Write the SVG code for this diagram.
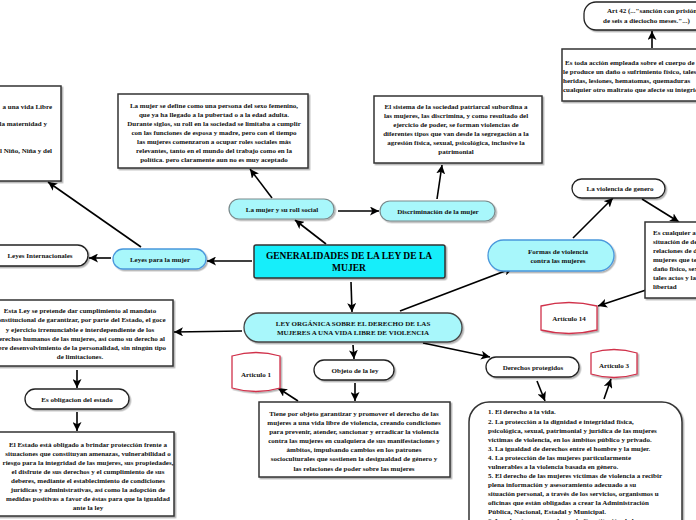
<svg xmlns="http://www.w3.org/2000/svg" width="696" height="520" viewBox="0 0 696 520">
<defs>
<style>
text{font-family:"Liberation Serif","Times New Roman",serif;font-weight:bold;font-size:7px;fill:#111}
.c{text-anchor:middle}
.r{text-anchor:end}
.t{font-size:9.5px;fill:#000}
.box{fill:#fff;stroke:#333;stroke-width:1.5;filter:url(#sh)}
.pw{fill:#fff;stroke:#222;stroke-width:1.3;filter:url(#sh)}
.pc{fill:#a8f7fb;stroke:#7a8a8c;stroke-width:1.2;filter:url(#sh)}
.pk{fill:#a8f7fb;stroke:#444;stroke-width:1.3;filter:url(#sh)}
.pb{fill:#a8f7fb;stroke:#4a98dc;stroke-width:1.3;filter:url(#sh)}
.ti{fill:#17eefa;stroke:#333;stroke-width:1.5;filter:url(#sh)}
.art{fill:#fff;stroke:#d0304a;stroke-width:1.3;filter:url(#sh)}
.e{fill:none;stroke:#000;stroke-width:1.6;marker-end:url(#ah)}
</style>
<marker id="ah" viewBox="0 0 10 10" refX="10" refY="5" markerWidth="9" markerHeight="9" markerUnits="userSpaceOnUse" orient="auto"><path d="M0,0L10,5L0,10L2.5,5z" fill="#000"/></marker>
<filter id="sh" x="-10%" y="-10%" width="130%" height="140%"><feDropShadow dx="1.5" dy="1.5" stdDeviation="0.7" flood-color="#000" flood-opacity="0.3"/></filter>
</defs>
<rect width="696" height="520" fill="#fff"/>

<g id="connectors">
<line class="e" x1="326" y1="244" x2="295" y2="220"/>
<line class="e" x1="272" y1="198" x2="250" y2="169"/>
<line class="e" x1="338" y1="211" x2="379" y2="211"/>
<line class="e" x1="437" y1="199" x2="442" y2="165"/>
<line class="e" x1="252" y1="261" x2="207" y2="261"/>
<line class="e" x1="111" y1="258" x2="89" y2="258"/>
<line class="e" x1="141" y1="247" x2="48" y2="182"/>
<line class="e" x1="351" y1="282" x2="352" y2="312"/>
<line class="e" x1="242" y1="331" x2="174" y2="332"/>
<line class="e" x1="77" y1="370" x2="77" y2="388"/>
<line class="e" x1="77" y1="412" x2="77" y2="431"/>
<line class="e" x1="353" y1="345" x2="354" y2="359"/>
<line class="e" x1="355" y1="383" x2="355" y2="401"/>
<line class="e" x1="298" y1="401" x2="278" y2="388"/>
<line class="e" x1="423" y1="343" x2="490" y2="357"/>
<line class="e" x1="537" y1="381" x2="545" y2="401"/>
<line class="e" x1="604" y1="399" x2="611" y2="379"/>
<line class="e" x1="400" y1="311" x2="513" y2="268"/>
<line class="e" x1="573" y1="238" x2="613" y2="198"/>
<line class="e" x1="642" y1="199" x2="679" y2="222"/>
<line class="e" x1="646" y1="290" x2="598" y2="306"/>
<line class="e" x1="652" y1="48" x2="652" y2="31"/>
</g>

<g id="n-title">
<rect class="ti" x="254" y="245" width="191" height="33" rx="2"/>
<text class="c t" x="349" y="259">GENERALIDADES DE LA LEY DE LA</text>
<text class="c t" x="349" y="270.5">MUJER</text>
</g>

<g id="n-mujer-roll">
<rect class="pc" x="229" y="199" width="105" height="20" rx="10"/>
<text class="c" x="282" y="211.5">La mujer y su roll social</text>
</g>

<g id="n-mujer-def">
<rect class="box" x="118" y="94" width="190" height="74"/>
<text class="c" x="214" y="107.5">La mujer se define como una persona del sexo femenino,</text>
<text class="c" x="214" y="116.5">que ya ha llegado a la pubertad o a la edad adulta.</text>
<text class="c" x="214" y="125.5">Durante siglos, su roll en la sociedad se limitaba a cumplir</text>
<text class="c" x="214" y="134.5">con las funciones de esposa y madre, pero con el tiempo</text>
<text class="c" x="214" y="143.5">las mujeres comenzaron a ocupar roles sociales más</text>
<text class="c" x="214" y="152.5">relevantes, tanto en el mundo del trabajo como en la</text>
<text class="c" x="214" y="161.5">política. pero claramente aun no es muy aceptado</text>
</g>

<g id="n-discriminacion">
<rect class="pc" x="380" y="201" width="115" height="20" rx="10"/>
<text class="c" x="438" y="213.5">Discriminación de la mujer</text>
</g>

<g id="n-sistema">
<rect class="box" x="374" y="96" width="168" height="67"/>
<text class="c" x="456" y="108.5">El sistema de la sociedad patriarcal subordina a</text>
<text class="c" x="456" y="117.5">las mujeres, las discrimina, y como resultado del</text>
<text class="c" x="456" y="126.5">ejercicio de poder, se forman violencias de</text>
<text class="c" x="456" y="135.5">diferentes tipos que van desde la segregación a la</text>
<text class="c" x="456" y="144.5">agresión física, sexual, psicológica, inclusive la</text>
<text class="c" x="456" y="153.5">patrimonial</text>
</g>

<g id="n-art42">
<rect class="pw" x="584" y="2" width="140" height="28" rx="12"/>
<text x="607" y="12.5">Art 42 (...&quot;sanción con prisión</text>
<text x="603" y="22.5">de seis a dieciocho meses.&quot;...)</text>
</g>

<g id="n-fisica">
<rect class="box" x="562" y="49" width="150" height="52"/>
<text x="565" y="64.5">Es toda acción empleada sobre el cuerpo de</text>
<text x="563" y="73.5">le produce un daño o sufrimiento físico, tales</text>
<text x="563" y="82.5">heridas, lesiones, hematomas, quemaduras</text>
<text x="563" y="91.5">cualquier otro maltrato que afecte su integridad</text>
</g>

<g id="n-violencia-genero">
<rect class="pw" x="572" y="179" width="93" height="19" rx="9.5"/>
<text class="c" x="620" y="191">La violencia de genero</text>
</g>

<g id="n-formas">
<rect class="pb" x="488" y="240" width="126" height="31" rx="15.5"/>
<text class="c" x="558" y="253.5">Formas de violencia</text>
<text class="c" x="558" y="262.5">contra las mujeres</text>
</g>

<g id="n-cualquier">
<rect class="box" x="645" y="222" width="70" height="76"/>
<text x="653" y="234.5">Es cualquier a</text>
<text x="653" y="243.5">situación de de</text>
<text x="653" y="252.5">relaciones de d</text>
<text x="653" y="261.5">mujeres que te</text>
<text x="653" y="270.5">daño físico, sex</text>
<text x="653" y="279.5">tales actos y la</text>
<text x="653" y="289">libertad</text>
</g>

<g id="n-art14">
<path class="art" d="M541,306 Q569,299 597,306 V330 Q569,337 541,330 Z"/>
<text class="c" x="569" y="321">Artículo 14</text>
</g>

<g id="n-leyes-mujer">
<rect class="pb" x="113" y="249" width="93" height="20" rx="10"/>
<text class="c" x="160" y="261.5">Leyes para la mujer</text>
</g>

<g id="n-leyes-int">
<rect class="pw" x="-12" y="245" width="100" height="21" rx="10.5"/>
<text class="c" x="40" y="257.5">Leyes Internacionales</text>
</g>

<g id="n-topleft">
<rect class="box" x="-6" y="86" width="67" height="95"/>
<text class="r" x="52" y="108.5">a una vida Libre</text>
<text class="r" x="47" y="125.5">la maternidad y</text>
<text class="r" x="52" y="152.5">l Niño, Niña y del</text>
</g>

<g id="n-ley-organica">
<rect class="pk" x="244" y="313" width="218" height="29" rx="14.5"/>
<text class="c" x="353" y="325.5">LEY ORGÁNICA SOBRE EL DERECHO DE LAS</text>
<text class="c" x="353" y="334.5">MUJERES A UNA VIDA LIBRE DE VIOLENCIA</text>
</g>

<g id="n-esta-ley">
<rect class="box" x="-6" y="300" width="179" height="66"/>
<text class="c" x="80" y="313">Esta Ley se pretende dar cumplimiento al mandato</text>
<text class="c" x="80" y="322">constitucional de garantizar, por parte del Estado, el goce</text>
<text class="c" x="80" y="331.5">y ejercicio irrenunciable e interdependiente de los</text>
<text class="c" x="80" y="340.5">derechos humanos de las mujeres, así como su derecho al</text>
<text class="c" x="80" y="349.5">libre desenvolvimiento de la personalidad, sin ningún tipo</text>
<text class="c" x="80" y="359">de limitaciones.</text>
</g>

<g id="n-obligacion">
<rect class="pw" x="25" y="389" width="104" height="20" rx="10"/>
<text class="c" x="77" y="401.5">Es obligacion del estado</text>
</g>

<g id="n-estado">
<rect class="box" x="-6" y="432" width="180" height="84"/>
<text class="c" x="88" y="446.5">El Estado está obligado a brindar protección frente a</text>
<text class="c" x="88" y="455.5">situaciones que constituyan amenazas, vulnerabilidad o</text>
<text class="c" x="88" y="464.5">riesgo para la integridad de las mujeres, sus propiedades,</text>
<text class="c" x="88" y="474">el disfrute de sus derechos y el cumplimiento de sus</text>
<text class="c" x="88" y="483">deberes, mediante el establecimiento de condiciones</text>
<text class="c" x="88" y="491.5">jurídicas y administrativas, así como la adopción de</text>
<text class="c" x="88" y="500.5">medidas positivas a favor de éstas para que la igualdad</text>
<text class="c" x="88" y="509.5">ante la ley</text>
</g>

<g id="n-objeto">
<rect class="pw" x="314" y="360" width="80" height="20" rx="10"/>
<text class="c" x="355" y="372.5">Objeto de la ley</text>
</g>

<g id="n-art1">
<path class="art" d="M232,356 Q256,349 280,356 V388 Q256,395 232,388 Z"/>
<text class="c" x="256" y="376.5">Articulo 1</text>
</g>

<g id="n-tiene">
<rect class="box" x="259" y="402" width="191" height="75"/>
<text class="c" x="354" y="415.5">Tiene por objeto garantizar y promover el derecho de las</text>
<text class="c" x="354" y="424.5">mujeres a una vida libre de violencia, creando condiciones</text>
<text class="c" x="354" y="434">para prevenir, atender, sancionar y erradicar la violencia</text>
<text class="c" x="354" y="443">contra las mujeres en cualquiera de sus manifestaciones y</text>
<text class="c" x="354" y="452">ámbitos, impulsando cambios en los patrones</text>
<text class="c" x="354" y="461">socioculturales que sostienen la desigualdad de género y</text>
<text class="c" x="354" y="470.5">las relaciones de poder sobre las mujeres</text>
</g>

<g id="n-derechos">
<rect class="pw" x="486" y="357" width="93" height="20" rx="10"/>
<text class="c" x="533" y="370">Derechos protegidos</text>
</g>

<g id="n-art3">
<path class="art" d="M591,353 Q614,346 637,353 V374 Q614,381 591,374 Z"/>
<text class="c" x="614" y="367.5">Articulo 3</text>
</g>

<g id="n-lista">
<rect class="box" x="469" y="402" width="213" height="140" rx="20"/>
<text x="488" y="414">1. El derecho a la vida.</text>
<text x="488" y="423.5">2. La protección a la dignidad e integridad física,</text>
<text x="488" y="432.5">psicológica, sexual, patrimonial y jurídica de las mujeres</text>
<text x="488" y="441.5">víctimas de violencia, en los ámbitos público y privado.</text>
<text x="488" y="450.5">3. La igualdad de derechos entre el hombre y la mujer.</text>
<text x="488" y="459.5">4. La protección de las mujeres particularmente</text>
<text x="488" y="468.5">vulnerables a la violencia basada en género.</text>
<text x="488" y="477.5">5. El derecho de las mujeres víctimas de violencia a recibir</text>
<text x="488" y="486.5">plena información y asesoramiento adecuado a su</text>
<text x="488" y="496">situación personal, a través de los servicios, organismos u</text>
<text x="488" y="505">oficinas que están obligadas a crear la Administración</text>
<text x="488" y="514">Pública, Nacional, Estadal y Municipal.</text>
<text x="488" y="522.5">6. Los demás consagrados en la Constitución de la</text>
</g>
</svg>
